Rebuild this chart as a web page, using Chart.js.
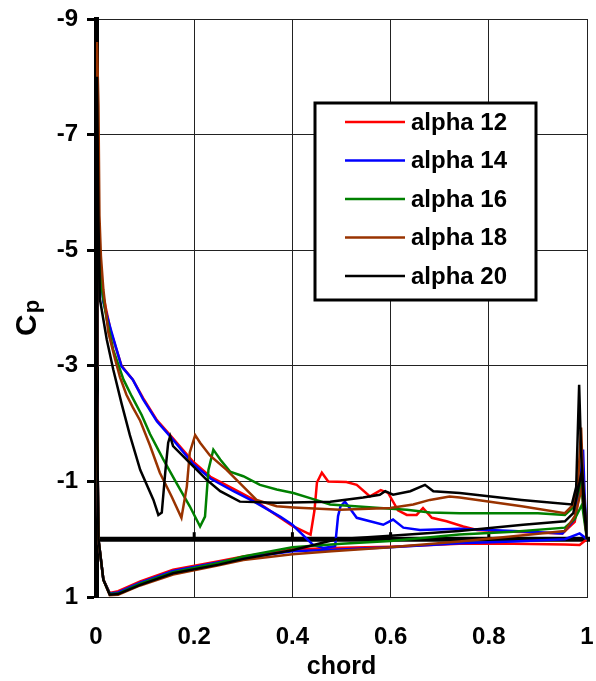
<!DOCTYPE html>
<html>
<head>
<meta charset="utf-8">
<script src="https://cdn.jsdelivr.net/npm/chart.js@4.4.0/dist/chart.umd.min.js"></script>
<style>
  html, body { margin: 0; padding: 0; background: #fff; }
  #wrap { width: 596px; height: 681px; }
</style>
</head>
<body>
<div id="wrap"><canvas id="cpChart" width="596" height="681"></canvas></div>
<script>
const FONT = '"Liberation Sans", Arial, sans-serif';

// axis ticks
const xTicks = [0, 0.2, 0.4, 0.6, 0.8, 1];
const yTicks = [-9, -7, -5, -3, -1, 1];

const seriesLabels = ['alpha 12', 'alpha 14', 'alpha 16', 'alpha 18', 'alpha 20'];
const seriesColors = ['#ff0000', '#0000ff', '#008000', '#993300', '#000000'];

// each loop: lower surface from trailing edge to leading edge, then upper surface back to the trailing edge
const chord12 = [1.0, 0.985, 0.955, 0.85, 0.74, 0.6, 0.5, 0.4, 0.3, 0.25, 0.157, 0.09, 0.045, 0.028, 0.015, 0.005, 0.001,
  0.002, 0.008, 0.015, 0.03, 0.052, 0.075, 0.096, 0.124, 0.151, 0.198, 0.233, 0.28, 0.32, 0.36, 0.4, 0.42, 0.437, 0.445,
  0.45, 0.46, 0.473, 0.51, 0.531, 0.558, 0.58, 0.595, 0.615, 0.633, 0.653, 0.666, 0.684, 0.714, 0.748, 0.776, 0.85, 0.95,
  0.975, 0.983, 0.988, 0.992, 1.0];
const cp12 = [0.0, 0.1, 0.09, 0.08, 0.08, 0.13, 0.15, 0.18, 0.3, 0.38, 0.53, 0.73, 0.9, 0.93, 0.7, 0.0, -3.0,
  -5.6, -4.8, -4.2, -3.6, -3.0, -2.76, -2.44, -2.06, -1.8, -1.34, -1.08, -0.87, -0.69, -0.46, -0.23, -0.15, -0.08, -0.5,
  -0.98, -1.15, -1.0, -0.99, -0.94, -0.74, -0.85, -0.8, -0.5, -0.42, -0.42, -0.54, -0.37, -0.31, -0.22, -0.16, -0.13, -0.1,
  -0.3, -0.7, -1.2, -0.6, 0.0];

const chord14 = [1.0, 0.985, 0.955, 0.85, 0.74, 0.6, 0.5, 0.4, 0.3, 0.25, 0.157, 0.09, 0.045, 0.028, 0.015, 0.005, 0.001,
  0.002, 0.008, 0.015, 0.03, 0.052, 0.075, 0.096, 0.124, 0.151, 0.198, 0.233, 0.28, 0.32, 0.375, 0.4, 0.442, 0.463, 0.487,
  0.493, 0.498, 0.507, 0.531, 0.558, 0.585, 0.605, 0.626, 0.66, 0.74, 0.85, 0.95, 0.975, 0.985, 0.992, 0.995, 1.0];
const cp14 = [0.0, -0.1, 0.0, 0.04, 0.07, 0.14, 0.18, 0.21, 0.32, 0.4, 0.55, 0.75, 0.92, 0.94, 0.7, 0.0, -3.0,
  -5.4, -4.7, -4.1, -3.63, -2.99, -2.76, -2.42, -2.04, -1.78, -1.3, -1.05, -0.83, -0.66, -0.39, -0.25, 0.1, 0.15, 0.12,
  -0.4, -0.57, -0.65, -0.37, -0.31, -0.25, -0.34, -0.2, -0.16, -0.18, -0.14, -0.1, -0.35, -0.9, -1.55, -0.8, 0.0];

const chord16 = [1.0, 0.99, 0.975, 0.955, 0.85, 0.74, 0.6, 0.5, 0.4, 0.3, 0.25, 0.157, 0.09, 0.045, 0.028, 0.015, 0.005, 0.001,
  0.002, 0.008, 0.015, 0.022, 0.035, 0.056, 0.073, 0.093, 0.11, 0.137, 0.164, 0.191, 0.212, 0.222, 0.229, 0.239, 0.253,
  0.273, 0.3, 0.334, 0.368, 0.402, 0.436, 0.477, 0.578, 0.633, 0.68, 0.741, 0.9, 0.955, 0.972, 0.982, 0.988, 0.993, 1.0];
const cp16 = [0.0, -0.6, -0.35, -0.2, -0.13, -0.08, 0.03, 0.08, 0.14, 0.3, 0.41, 0.57, 0.77, 0.94, 0.95, 0.7, 0.0, -3.0,
  -5.5, -4.6, -4.15, -3.8, -3.28, -2.76, -2.47, -2.15, -1.82, -1.38, -0.97, -0.57, -0.22, -0.39, -1.2, -1.55, -1.38,
  -1.17, -1.09, -0.94, -0.86, -0.8, -0.71, -0.6, -0.54, -0.51, -0.46, -0.45, -0.45, -0.42, -0.55, -0.8, -1.0, -0.5, 0.0];

const chord18 = [1.0, 0.99, 0.975, 0.955, 0.85, 0.74, 0.6, 0.48, 0.4, 0.3, 0.25, 0.157, 0.09, 0.045, 0.028, 0.015, 0.005, 0.001,
  0.002, 0.005, 0.007, 0.01, 0.015, 0.025, 0.039, 0.049, 0.062, 0.075, 0.09, 0.11, 0.13, 0.154, 0.174, 0.185, 0.191,
  0.202, 0.212, 0.232, 0.266, 0.3, 0.327, 0.368, 0.402, 0.497, 0.599, 0.646, 0.68, 0.72, 0.741, 0.867, 0.955, 0.972,
  0.982, 0.988, 0.992, 1.0];
const cp18 = [0.0, -0.9, -0.4, -0.14, -0.05, 0.04, 0.14, 0.21, 0.26, 0.36, 0.45, 0.61, 0.8, 0.96, 0.97, 0.7, 0.0, -3.0,
  -8.6, -7.5, -5.6, -4.9, -4.32, -3.58, -3.11, -2.8, -2.5, -2.28, -2.05, -1.62, -1.15, -0.74, -0.37, -0.91, -1.5,
  -1.8, -1.67, -1.45, -1.2, -0.91, -0.68, -0.57, -0.55, -0.51, -0.54, -0.6, -0.68, -0.74, -0.72, -0.57, -0.45, -0.6,
  -1.0, -1.93, -1.0, 0.0];

const chord20 = [1.0, 0.99, 0.972, 0.955, 0.87, 0.74, 0.6, 0.49, 0.4, 0.3, 0.25, 0.157, 0.09, 0.045, 0.028, 0.015, 0.005, 0.001,
  0.002, 0.005, 0.008, 0.022, 0.035, 0.052, 0.069, 0.09, 0.117, 0.127, 0.134, 0.141, 0.147, 0.151, 0.157, 0.191, 0.225,
  0.253, 0.293, 0.368, 0.477, 0.544, 0.578, 0.589, 0.605, 0.64, 0.67, 0.687, 0.741, 0.867, 0.969, 0.978, 0.984, 0.988,
  0.993, 1.0];
const cp20 = [0.0, -1.2, -0.45, -0.31, -0.25, -0.14, -0.06, 0.0, 0.19, 0.34, 0.44, 0.59, 0.79, 0.95, 0.96, 0.7, 0.0, -3.0,
  -8.0, -5.5, -4.15, -3.45, -2.94, -2.35, -1.8, -1.2, -0.68, -0.42, -0.46, -1.15, -1.67, -1.78, -1.61, -1.32, -1.03,
  -0.83, -0.65, -0.63, -0.65, -0.72, -0.77, -0.83, -0.77, -0.83, -0.94, -0.83, -0.8, -0.68, -0.6, -0.9, -2.67, -1.5,
  -0.6, 0.0];

const chords = [chord12, chord14, chord16, chord18, chord20];
const cps = [cp12, cp14, cp16, cp18, cp20];

function toPoints(xs, ys) {
  return xs.map((x, i) => ({ x: x, y: ys[i] }));
}

const datasets = seriesLabels.map((label, i) => ({
  label: label,
  data: toPoints(chords[i], cps[i]),
  borderColor: seriesColors[i],
  backgroundColor: seriesColors[i],
  borderWidth: 2.5,
  showLine: true,
  pointRadius: 0,
  tension: 0,
  fill: false,
  order: seriesLabels.length - i,
}));

// zero line, legend box and axis titles
const extras = {
  id: 'extras',
  beforeDatasetsDraw(chart) {
    const { ctx, chartArea, scales } = chart;
    const y0 = scales.y.getPixelForValue(0);
    ctx.save();
    ctx.strokeStyle = '#000';
    ctx.lineWidth = 5;
    ctx.beginPath();
    ctx.moveTo(chartArea.left, y0);
    ctx.lineTo(chartArea.right + 3, y0);
    ctx.stroke();
    ctx.lineWidth = 3;
    xTicks.slice(1, -1).forEach((v) => {
      const x = scales.x.getPixelForValue(v);
      ctx.beginPath();
      ctx.moveTo(x, y0);
      ctx.lineTo(x, y0 - 7);
      ctx.stroke();
    });
    ctx.restore();
  },
  afterDraw(chart) {
    const { ctx, chartArea } = chart;
    ctx.save();

    // legend
    const bx = 315, by = 103, bw = 221, bh = 197;
    ctx.fillStyle = '#fff';
    ctx.fillRect(bx, by, bw, bh);
    ctx.strokeStyle = '#000';
    ctx.lineWidth = 3;
    ctx.strokeRect(bx, by, bw, bh);
    ctx.font = 'bold 24px ' + FONT;
    ctx.textAlign = 'left';
    ctx.textBaseline = 'middle';
    chart.data.datasets.forEach((ds, i) => {
      const yy = 122 + i * 38.5;
      ctx.strokeStyle = ds.borderColor;
      ctx.lineWidth = 2.5;
      ctx.beginPath();
      ctx.moveTo(345, yy);
      ctx.lineTo(405, yy);
      ctx.stroke();
      ctx.fillStyle = '#000';
      ctx.fillText(ds.label, 411, yy + 1);
    });

    // x title
    ctx.font = 'bold 25px ' + FONT;
    ctx.textAlign = 'center';
    ctx.fillText('chord', (chartArea.left + chartArea.right) / 2, 667);

    // y title, C with subscript p
    ctx.translate(36, 336);
    ctx.rotate(-Math.PI / 2);
    ctx.textAlign = 'left';
    ctx.textBaseline = 'alphabetic';
    ctx.font = 'bold 30px ' + FONT;
    ctx.fillText('C', 0, 0);
    const w = ctx.measureText('C').width;
    ctx.font = 'bold 22px ' + FONT;
    ctx.fillText('p', w + 1, 3);
    ctx.restore();
  },
};

new Chart(document.getElementById('cpChart'), {
  type: 'scatter',
  data: { datasets: datasets },
  options: {
    responsive: false,
    animation: false,
    devicePixelRatio: 1,
    layout: { padding: { top: 19, right: 9, left: 0, bottom: 0 } },
    plugins: { legend: { display: false }, tooltip: { enabled: false } },
    scales: {
      x: {
        type: 'linear',
        min: 0,
        max: 1,
        afterBuildTicks: (s) => { s.ticks = xTicks.map((v) => ({ value: v })); },
        afterFit: (s) => { s.height = 84; s.paddingLeft = 0; s.paddingRight = 0; },
        grid: { color: '#222', lineWidth: 1, drawTicks: false },
        border: { display: true, color: '#222', width: 1 },
        ticks: {
          color: '#000',
          padding: 26,
          font: { family: FONT, size: 24, weight: 'bold' },
          callback: (v) => String(v),
        },
      },
      y: {
        type: 'linear',
        min: -9,
        max: 1,
        reverse: true,
        afterBuildTicks: (s) => { s.ticks = yTicks.map((v) => ({ value: v })); },
        afterFit: (s) => { s.width = 96; s.paddingTop = 0; s.paddingBottom = 0; },
        grid: { color: '#222', lineWidth: 1, tickLength: 9, tickWidth: 3, tickColor: '#000' },
        border: { display: true, color: '#000', width: 5 },
        ticks: {
          color: '#000',
          padding: 9,
          font: { family: FONT, size: 24, weight: 'bold' },
          callback: (v) => String(v),
        },
      },
    },
  },
  plugins: [extras],
});
</script>
</body>
</html>
